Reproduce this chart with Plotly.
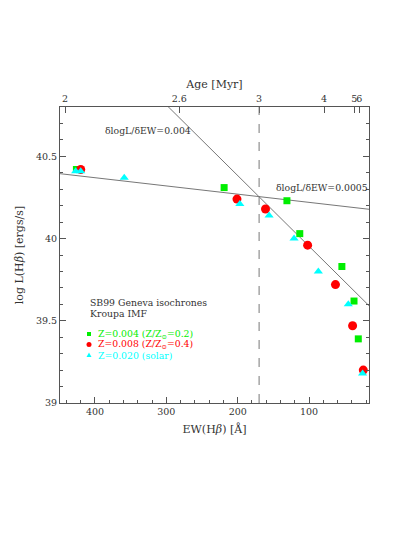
import numpy as np
import plotly.graph_objects as go

# EW(Hbeta) [A] and log L(Hbeta) [erg/s]
ew_z004 = [426, 219, 131, 113, 54, 37, 31]
logl_z004 = [40.42, 40.31, 40.23, 40.03, 39.83, 39.62, 39.39]

ew_z008 = [420, 201, 161, 102, 63, 39, 24]
logl_z008 = [40.42, 40.24, 40.18, 39.96, 39.72, 39.47, 39.20]

ew_z020 = [427, 420, 359, 197, 156, 121, 87, 45, 25]
logl_z020 = [40.41, 40.41, 40.37, 40.21, 40.14, 40.00, 39.80, 39.60, 39.18]

# top axis: age [Myr] and the EW it corresponds to
age_ticks = ["2", "2.6", "3", "4", "5", "6"]
age_ew = [442, 282, 170, 79, 36.5, 29.5]

# fitted slopes
slope_flat, icpt_flat = 0.0005, 40.17
slope_steep, pivot_ew, pivot_logl = 0.0043, 170, 40.254

xr = [449, 16]
yr = [39, 40.8]
ex = np.array(xr)

font = "DejaVu Serif"
axcol = "#555555"
W, H = 415, 537
OFF = 8  # page body margin
x0p, x1p, y0p, y1p = 60, 369, 107, 403  # plot box in the picture
pw, ph = x1p - x0p, y1p - y0p
L, T = x0p - OFF, y0p - OFF
R, B = W - L - pw, H - T - ph


def px(x):
    return (x - x0p) / pw


def py(y):
    return (y1p - y) / ph


fig = go.Figure()

fig.add_trace(go.Scatter(x=ex, y=icpt_flat + slope_flat * ex, mode="lines",
                         line=dict(color="#777777", width=1), showlegend=False))
fig.add_trace(go.Scatter(x=ex, y=pivot_logl + slope_steep * (ex - pivot_ew), mode="lines",
                         line=dict(color="#777777", width=1), showlegend=False))

fig.add_trace(go.Scatter(x=ew_z004, y=logl_z004, mode="markers",
                         marker=dict(symbol="square", size=7, color="#00ee00"), showlegend=False))
fig.add_trace(go.Scatter(x=ew_z008, y=logl_z008, mode="markers",
                         marker=dict(symbol="circle", size=9, color="#ff0000"), showlegend=False))
fig.add_trace(go.Scatter(x=ew_z020, y=logl_z020, mode="markers",
                         marker=dict(symbol="triangle-up", size=8, color="#00ffff"), showlegend=False))

# invisible trace to hold the top axis
fig.add_trace(go.Scatter(x=age_ew, y=[39.5] * len(age_ew), xaxis="x2", mode="markers",
                         marker=dict(opacity=0), showlegend=False, hoverinfo="skip"))

fig.add_shape(type="line", x0=170, x1=170, y0=0, y1=1, xref="x", yref="paper",
              line=dict(color="#777777", width=1, dash="dash"))

ann = [
    (103, 130, "δlogL/δEW=0.004", "#333333"),
    (274, 187, "δlogL/δEW=0.0005", "#333333"),
    (88, 302, "SB99 Geneva isochrones", "#333333"),
    (88, 313, "Kroupa IMF", "#333333"),
    (96, 334, "Z=0.004 (Z/Z<sub>⊙</sub>=0.2)", "#00ee00"),
    (96, 344.5, "Z=0.008 (Z/Z<sub>⊙</sub>=0.4)", "#ff0000"),
    (96, 355, "Z=0.020 (solar)", "#00ffff"),
]
for x, y, t, c in ann:
    fig.add_annotation(x=px(x), y=py(y), xref="paper", yref="paper",
                       xanchor="left", yanchor="middle", text=t, showarrow=False,
                       font=dict(family=font, size=9.3, color=c))

# legend symbols
fig.add_shape(type="rect", xref="paper", yref="paper", x0=px(87), x1=px(91), y0=py(336), y1=py(332),
              fillcolor="#00ee00", line=dict(width=0))
fig.add_shape(type="circle", xref="paper", yref="paper", x0=px(86.5), x1=px(91.5), y0=py(347), y1=py(342),
              fillcolor="#ff0000", line=dict(width=0))
fig.add_shape(type="path", xref="paper", yref="paper",
              path=f"M {px(86.5)} {py(357)} L {px(91.5)} {py(357)} L {px(89)} {py(352.5)} Z",
              fillcolor="#00ffff", line=dict(width=0))

fig.update_layout(
    width=W, height=H,
    margin=dict(l=L, r=R, t=T, b=B),
    paper_bgcolor="white", plot_bgcolor="white",
    font=dict(family=font, size=9.5, color="#333333"),
    xaxis=dict(range=xr, showgrid=False, zeroline=False, showline=True, linecolor=axcol,
               ticks="inside", ticklen=6, tickcolor=axcol, tick0=0, dtick=100, tickangle=0,
               automargin=False,
               minor=dict(ticks="inside", ticklen=3, dtick=20, tickcolor=axcol),
               title=dict(text="EW(H<i>β</i>) [Å]", standoff=8)),
    xaxis2=dict(range=xr, overlaying="x", side="top", showgrid=False, zeroline=False,
                showline=True, linecolor=axcol, ticks="inside", ticklen=6, tickcolor=axcol,
                tickmode="array", tickvals=age_ew, ticktext=age_ticks, tickangle=0,
                automargin=False,
                title=dict(text="Age [Myr]", standoff=2)),
    yaxis=dict(range=yr, showgrid=False, zeroline=False, showline=True, linecolor=axcol,
               mirror="ticks", ticks="inside", ticklen=6, tickcolor=axcol, dtick=0.5,
               automargin=False,
               minor=dict(ticks="inside", ticklen=3, dtick=0.1, tickcolor=axcol),
               title=dict(text="log L(H<i>β</i>) [ergs/s]", standoff=10)),
)

fig.write_html("out.html")
